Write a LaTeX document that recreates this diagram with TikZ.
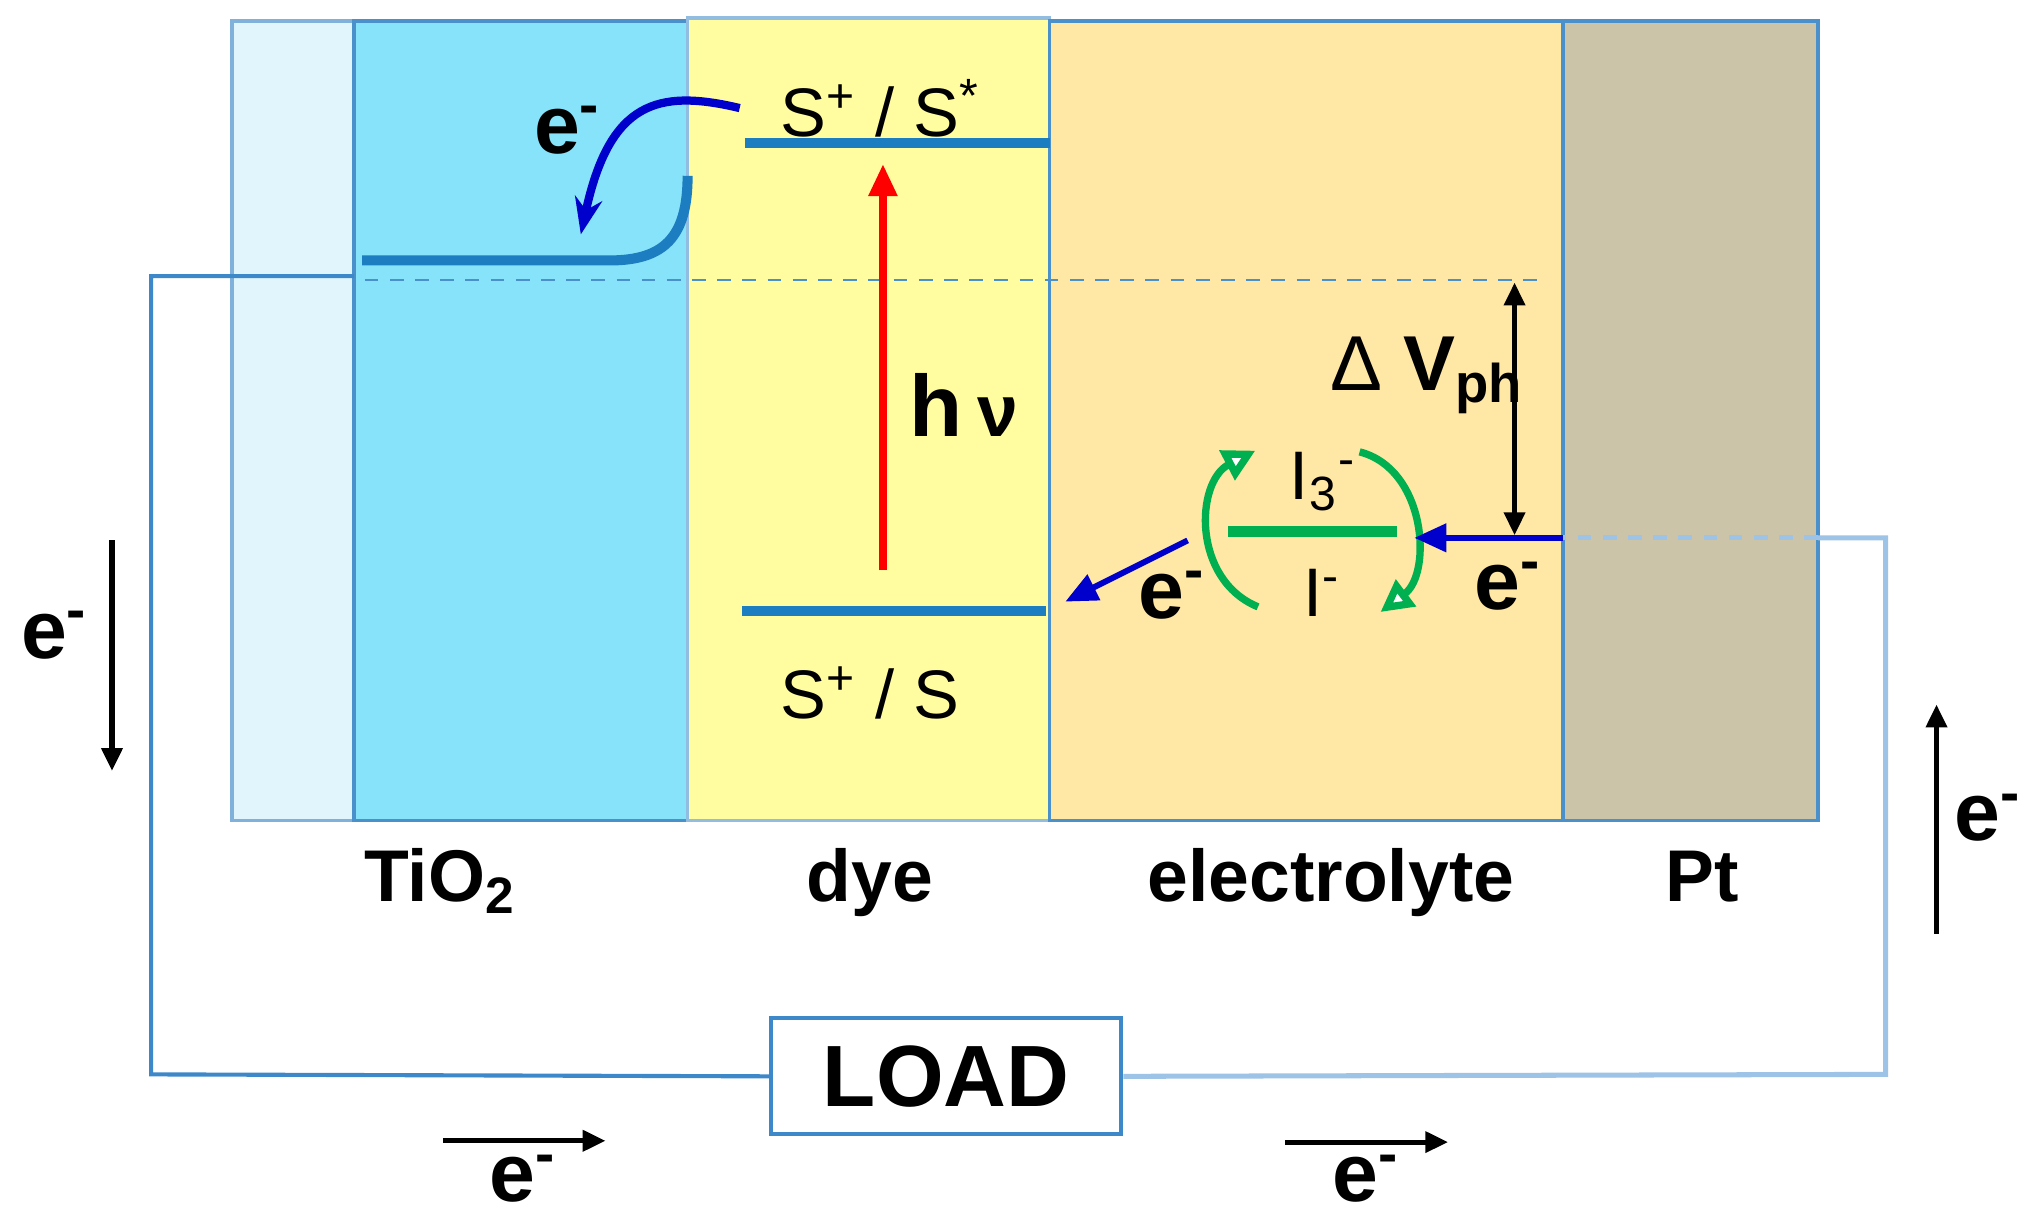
\documentclass[tikz,border=0pt]{standalone}
\usepackage{fontspec}
\setmainfont{Liberation Sans}
\usetikzlibrary{arrows.meta}
\definecolor{glass}{HTML}{E1F5FD}
\definecolor{tio}{HTML}{87E3F9}
\definecolor{dyec}{HTML}{FFFDA0}
\definecolor{elec}{HTML}{FFE8A6}
\definecolor{ptc}{HTML}{CBC4A8}
\definecolor{edge}{HTML}{4A90CB}
\definecolor{lvl}{HTML}{1C7DC0}
\definecolor{wireA}{HTML}{3C88C8}
\definecolor{wireB}{HTML}{9DC3E6}
\definecolor{eblue}{HTML}{0000CC}
\definecolor{grn}{HTML}{00B050}
\newcommand\eminus{e\textsuperscript{-}}
\begin{document}
\begin{tikzpicture}[x=0.01cm,y=-0.01cm,
  layer/.style={draw=edge,line width=0.8pt},
  levelline/.style={draw=lvl,line width=2.2pt},
  txt/.style={inner sep=0pt,font=\fontsize{15}{17}\selectfont},
  btxt/.style={inner sep=0pt,font=\fontsize{16}{18}\selectfont\bfseries},
  etxt/.style={inner sep=0pt,font=\fontsize{18}{20}\selectfont\bfseries},
  blackarrow/.style={draw=black,line width=1.1pt,-{Triangle[length=5pt,width=4.5pt]}},
  bluearrow/.style={draw=eblue,line width=1.8pt,-{Stealth[length=8pt,width=6pt]}},
  greenarc/.style={draw=grn,line width=1.6pt,-{Triangle[length=7pt,width=7pt,fill=white]}},
  wireleft/.style={draw=wireA,line width=0.9pt},
  wireright/.style={draw=wireB,line width=1.1pt}]
\useasboundingbox (0,0) rectangle (1568,937);

% layers
\path[layer,draw=edge!70,fill=glass] (178,16) rectangle (272,630);
\path[layer,fill=tio] (272,16) rectangle (528,630);
\path[layer,draw=edge!60,fill=dyec] (528,14) rectangle (806,630);
\path[layer,fill=elec] (806,16) rectangle (1200,630);
\path[layer,fill=ptc] (1200,16) rectangle (1396,630);

% coordinates
\coordinate (tioEdge) at (272,212);
\coordinate (wTL) at (116,212);
\coordinate (wBL) at (116,825);
\coordinate (wBR) at (1448,825);
\coordinate (wTR) at (1448,413);
\coordinate (ptRight) at (1396,413);
\coordinate (ptLeft) at (1200,413);

% Fermi level dashed
\coordinate (fL) at (280,215);
\coordinate (fR) at (1185,215);
\draw[draw=edge,line width=0.6pt,dash pattern=on 3pt off 2.5pt] (fL) -- (fR);

% TiO2 conduction band
\coordinate (cbL) at (278,200);
\coordinate (cbR) at (528,135);
\draw[levelline] (cbL) -- (468,200) .. controls (510,200) and (528,182) .. (cbR);

% dye levels
\coordinate (lumoL) at (572,110);
\coordinate (lumoR) at (806,110);
\coordinate (homoL) at (570,469);
\coordinate (homoR) at (803,469);
\draw[levelline] (lumoL) -- (lumoR);
\draw[levelline] (homoL) -- (homoR);

% red photon arrow
\coordinate (hvS) at (678,438);
\coordinate (hvE) at (678,126);
\draw[draw=red,line width=1.6pt,-{Triangle[length=7pt,width=6pt]}] (hvS) -- (hvE);

% labels in dye
\node[txt] (sstar) at (676,83) {S\textsuperscript{+} / S\textsuperscript{*}};
\node[txt] (sground) at (668,532) {S\textsuperscript{+} / S};
\node[inner sep=0pt,anchor=base west] (hv) at (698,335) {\bfseries\fontsize{19}{21}\selectfont h\,\fontsize{16}{18}\selectfont ν};

% injection arrow
\coordinate (injS) at (568,83);
\coordinate (injE) at (446,180);
\draw[bluearrow] (injS) .. controls (505,68) and (468,78) .. (injE);
\node[etxt] (einj) at (436,100) {\eminus};

% electrolyte
\coordinate (gL) at (943,408);
\coordinate (gR) at (1073,408);
\draw[draw=grn,line width=2.4pt] (gL) -- (gR);
\node[txt] (i3) at (1016,370) {I\textsubscript{3}\textsuperscript{-}};
\node[txt] (iminus) at (1015,455) {I\textsuperscript{-}};
\coordinate (la1) at (966,466);
\coordinate (la2) at (964,346);
\draw[greenarc] (la1) .. controls (915,445) and (918,370) .. (la2);
\coordinate (ra1) at (1044,347);
\coordinate (ra2) at (1060,470);
\draw[greenarc] (ra1) .. controls (1095,360) and (1100,440) .. (ra2);

% electron flows in electrolyte
\coordinate (ptArrowE) at (1086,413);
\draw[draw=eblue,line width=1.3pt,-{Triangle[length=7pt,width=6pt]}] (ptLeft) -- (ptArrowE);
\node[etxt] (ept) at (1158,450) {\eminus};
\coordinate (dS) at (912,415);
\coordinate (dE) at (818,462);
\draw[draw=eblue,line width=1.3pt,-{Triangle[length=7pt,width=6pt]}] (dS) -- (dE);
\node[etxt] (edye) at (900,457) {\eminus};

% photovoltage
\coordinate (vT) at (1163,217);
\coordinate (vB) at (1163,411);
\draw[draw=black,line width=1.1pt,{Triangle[length=5pt,width=4.5pt]}-{Triangle[length=5pt,width=4.5pt]}] (vT) -- (vB);
\node[inner sep=0pt,font=\fontsize{17}{19}\selectfont,anchor=base] (dv) at (1096,300) {Δ \textbf{V}\textsubscript{\textbf{ph}}};

% circuit
\node[draw=wireA,line width=0.9pt,fill=white,minimum width=269*0.01cm,minimum height=89*0.01cm,inner sep=0pt,font=\fontsize{19}{21}\selectfont\bfseries] (load) at (726.5,826.5) {LOAD};
\draw[wireleft] (tioEdge) -- (wTL) -- (wBL) -- (load.west);
\draw[wireright] (load.east) -- (wBR) -- (wTR) -- (ptRight);
\draw[draw=wireB,line width=1.1pt,dash pattern=on 3pt off 2.5pt] (ptRight) -- (ptLeft);

% layer labels
\node[btxt,anchor=base] (ltio) at (338,692) {TiO\textsubscript{2}};
\node[btxt,anchor=base] (ldye) at (668,692) {dye};
\node[btxt,anchor=base] (lel) at (1022,692) {electrolyte};
\node[btxt,anchor=base] (lpt) at (1307,692) {Pt};

% external electron arrows
\coordinate (a1s) at (86,415);
\coordinate (a1e) at (86,592);
\draw[blackarrow] (a1s) -- (a1e);
\node[etxt] (e1) at (42,488) {\eminus};
\coordinate (a2s) at (1487,717);
\coordinate (a2e) at (1487,541);
\draw[blackarrow] (a2s) -- (a2e);
\node[etxt] (e2) at (1527,628) {\eminus};
\coordinate (a3s) at (340,876);
\coordinate (a3e) at (465,876);
\draw[blackarrow] (a3s) -- (a3e);
\node[etxt] (e3) at (402,905) {\eminus};
\coordinate (a4s) at (987,877);
\coordinate (a4e) at (1112,877);
\draw[blackarrow] (a4s) -- (a4e);
\node[etxt] (e4) at (1049,905) {\eminus};
\end{tikzpicture}
\end{document}
